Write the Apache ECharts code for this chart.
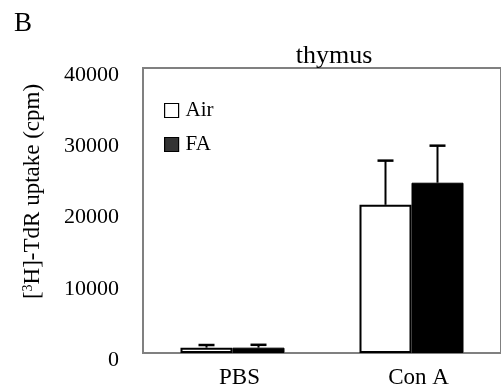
<!DOCTYPE html>
<html>
<head>
<meta charset="utf-8">
<script src="https://cdn.jsdelivr.net/npm/echarts@6/dist/echarts.min.js"></script>
<style>html,body{margin:0;padding:0;background:#fff;}#c{width:501px;height:392px;}</style>
</head>
<body>
<div id="c"></div>
<script>
const categories = ['PBS', 'Con A'];
const seriesNames = ['Air', 'FA'];
const airValues = [750, 20800];
const faValues = [750, 23900];
const airErrors = [370, 6200];
const faErrors = [400, 5200];
const yTicks = [0, 10000, 20000, 30000, 40000];

const FONT = 'Liberation Serif, Times New Roman, serif';
const BAR_W = 52;

function errRender(offset) {
  return function (params, api) {
    const xi = api.value(0), v = api.value(1), e = api.value(2);
    const p0 = api.coord([xi, v]);
    const p1 = api.coord([xi, v + e]);
    const x = p0[0] + offset;
    return {
      type: 'group',
      children: [
        { type: 'line', shape: { x1: x, y1: p0[1], x2: x, y2: p1[1] }, style: { stroke: '#000', lineWidth: 2 } },
        { type: 'line', shape: { x1: x - 8, y1: p1[1], x2: x + 8, y2: p1[1] }, style: { stroke: '#000', lineWidth: 2.5 } }
      ]
    };
  };
}

const chart = echarts.init(document.getElementById('c'), null, { renderer: 'canvas' });
chart.setOption({
  animation: false,
  backgroundColor: '#fff',
  textStyle: { fontFamily: FONT, color: '#000' },
  grid: { left: 143, top: 68, bottom: 39, right: -3, show: true, borderColor: '#808080', borderWidth: 2, backgroundColor: 'transparent' },
  graphic: [
    { type: 'text', left: 14, top: 10, style: { text: 'B', font: '27px ' + FONT, fill: '#000' } },
    { type: 'text', x: 334, y: 56, style: { text: 'thymus', font: '26px ' + FONT, fill: '#000', align: 'center', verticalAlign: 'middle' } }
  ],
  legend: {
    orient: 'vertical', left: 159, top: 95, itemWidth: 14, itemHeight: 14, itemGap: 13,
    icon: 'rect',
    textStyle: { fontFamily: FONT, fontSize: 21, color: '#000', padding: [0, 0, 0, 2] },
    data: [
      { name: seriesNames[0], itemStyle: { color: '#fff', borderColor: '#000', borderWidth: 1.2 } },
      { name: seriesNames[1], itemStyle: { color: '#333', borderColor: '#000', borderWidth: 1.2 } }
    ]
  },
  xAxis: {
    type: 'category', data: categories,
    axisLine: { lineStyle: { color: '#808080', width: 2 } },
    axisTick: { show: false },
    axisLabel: { fontFamily: FONT, fontSize: 23, color: '#000', margin: 13, padding: [0, 0, 0, 14] }
  },
  yAxis: {
    type: 'value', min: yTicks[0], max: yTicks[yTicks.length - 1], interval: yTicks[1] - yTicks[0],
    axisLine: { show: true, lineStyle: { color: '#808080', width: 2 } },
    axisTick: { show: false },
    splitLine: { show: false },
    axisLabel: { fontFamily: FONT, fontSize: 22, color: '#000', margin: 24, verticalAlign: 'top', lineHeight: 14,
      formatter: function (v) { return String(v); } },
    name: '{b|[}{s|3}{b|H]-TdR uptake (cpm)}',
    nameLocation: 'middle', nameRotate: 90, nameGap: 99,
    nameTextStyle: {
      padding: [0, 0, 0, 38],
      rich: {
        b: { fontFamily: FONT, fontSize: 23, color: '#000' },
        s: { fontFamily: FONT, fontSize: 14, color: '#000', verticalAlign: 'top' }
      }
    }
  },
  series: [
    { name: seriesNames[0], type: 'bar', data: airValues, barWidth: BAR_W, barGap: '0%',
      itemStyle: { color: '#fff', borderColor: '#000', borderWidth: 2 } },
    { name: seriesNames[1], type: 'bar', data: faValues, barWidth: BAR_W, barGap: '0%',
      itemStyle: { color: '#000', borderColor: '#000', borderWidth: 1 } },
    { type: 'custom', renderItem: errRender(-BAR_W / 2), data: categories.map((c, i) => [i, airValues[i], airErrors[i]]), z: 1 },
    { type: 'custom', renderItem: errRender(BAR_W / 2), data: categories.map((c, i) => [i, faValues[i], faErrors[i]]), z: 1 }
  ]
});
</script>
</body>
</html>
